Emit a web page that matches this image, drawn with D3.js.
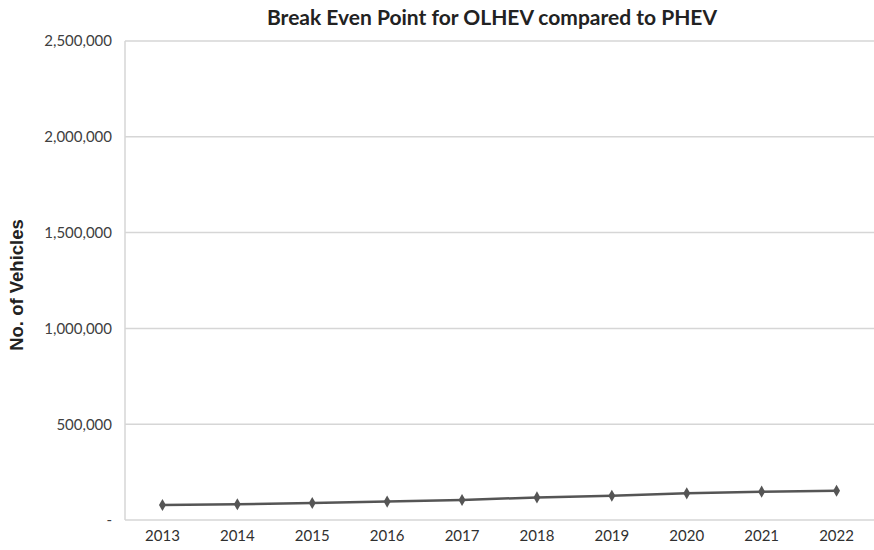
<!DOCTYPE html>
<html>
<head>
<meta charset="utf-8">
<script src="https://cdn.jsdelivr.net/npm/d3@7"></script>
<style>
  html, body { margin: 0; padding: 0; background: #fff; }
  svg { display: block; }
</style>
</head>
<body>
<svg id="chart" width="874" height="550"></svg>
<script>
const years = ["2013","2014","2015","2016","2017","2018","2019","2020","2021","2022"];
const vehicles = [78000, 82000, 89000, 96000, 104000, 118000, 127000, 139000, 148000, 153000];
const yTicks = [0, 500000, 1000000, 1500000, 2000000, 2500000];
const titleText = "Break Even Point for OLHEV compared to PHEV";
const yLabel = "No. of Vehicles";

const svg = d3.select("#chart");
const plotLeft = 125, plotRight = 874, plotTop = 41, plotBottom = 520;

const x = d3.scaleBand().domain(years).range([plotLeft, plotRight]);
const xc = d => x(d) + x.bandwidth() / 2;
const y = d3.scaleLinear().domain([0, 2500000]).range([plotBottom, plotTop]);

const font = "Lato, 'Open Sans', sans-serif";

// gridlines
svg.append("g").selectAll("line").data(yTicks).join("line")
  .attr("x1", plotLeft).attr("x2", plotRight)
  .attr("y1", d => y(d)).attr("y2", d => y(d))
  .attr("stroke", "#d6d6d6").attr("stroke-width", 1.5);

// left axis line
svg.append("line")
  .attr("x1", plotLeft).attr("x2", plotLeft)
  .attr("y1", plotTop).attr("y2", plotBottom)
  .attr("stroke", "#d6d6d6").attr("stroke-width", 1.5);

// y axis
const yAxis = d3.axisLeft(y).tickValues(yTicks)
  .tickFormat(d => d === 0 ? "-" : d3.format(",")(d))
  .tickSize(0).tickPadding(13);
const yg = svg.append("g").attr("transform", `translate(${plotLeft},0)`).call(yAxis);
yg.select(".domain").remove();
yg.selectAll("text").attr("font-family", font).attr("font-size", 15).attr("fill", "#404040");

// x axis
const xAxis = d3.axisBottom(x).tickSize(0).tickPadding(10);
const xg = svg.append("g").attr("transform", `translate(0,${plotBottom})`).call(xAxis);
xg.select(".domain").remove();
xg.selectAll("text").attr("font-family", font).attr("font-size", 15).attr("fill", "#303030");

// line
const line = d3.line().x((d, i) => xc(years[i])).y(d => y(d));
svg.append("path").datum(vehicles)
  .attr("d", line).attr("fill", "none")
  .attr("stroke", "#555").attr("stroke-width", 2.5);

// markers
svg.append("g").selectAll("path").data(vehicles).join("path")
  .attr("d", d3.symbol().type(d3.symbolDiamond).size(42))
  .attr("transform", (d, i) => `translate(${xc(years[i])},${y(d)})`)
  .attr("fill", "#555");

// title
svg.append("text")
  .attr("x", 492).attr("y", 25)
  .attr("text-anchor", "middle")
  .attr("font-family", font).attr("font-weight", "bold")
  .attr("font-size", 21).attr("fill", "#222")
  .text(titleText);

// y label
svg.append("text")
  .attr("transform", "translate(23,285) rotate(-90)")
  .attr("text-anchor", "middle")
  .attr("font-family", "Arial, 'Liberation Sans', sans-serif").attr("font-weight", "bold")
  .attr("font-size", 18.5).attr("fill", "#222")
  .text(yLabel);
</script>
</body>
</html>
